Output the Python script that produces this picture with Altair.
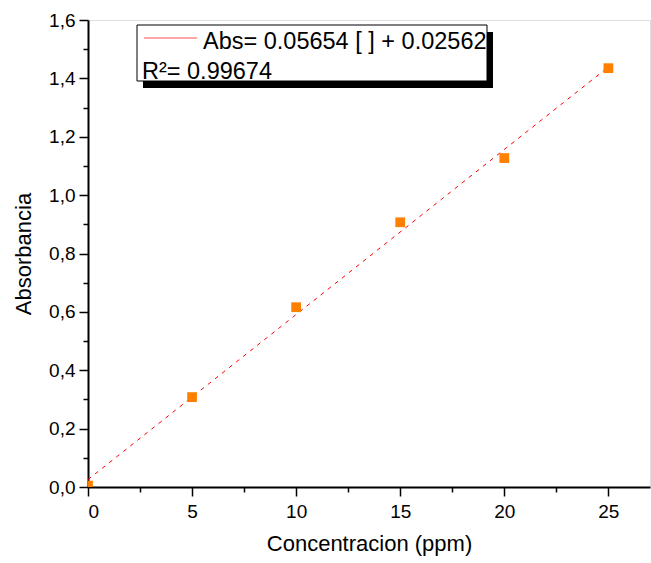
import altair as alt
import pandas as pd

conc = [0, 5, 10, 15, 20, 25]
absb = [0.005, 0.308, 0.616, 0.907, 1.127, 1.435]
fit_x = [0, 25]
fit_y = [0.02562, 1.43912]
x_major = [0, 5, 10, 15, 20, 25]
x_minor = [2.5, 7.5, 12.5, 17.5, 22.5]
y_major = [0.0, 0.2, 0.4, 0.6, 0.8, 1.0, 1.2, 1.4, 1.6]
y_minor = [0.1, 0.3, 0.5, 0.7, 0.9, 1.1, 1.3, 1.5]

pts = pd.DataFrame({"x": conc, "y": absb})
fit = pd.DataFrame({"x": fit_x, "y": fit_y})

W, H = 562, 467
FONT = "Liberation Sans"

xs = alt.Scale(domain=[0, 27], nice=False, zero=False)
ys = alt.Scale(domain=[0, 1.6], nice=False, zero=False)

x_axis = alt.Axis(values=x_major, title="Concentracion (ppm)", grid=False, orient="bottom",
                  domainColor="black", domainWidth=2, tickColor="black", tickWidth=1.5,
                  tickSize=9, labelFontSize=19, titleFontSize=22, labelFont=FONT, titleFont=FONT,
                  labelColor="black", titleColor="black", titleFontWeight="normal",
                  labelPadding=6, titlePadding=12)
y_axis = alt.Axis(values=y_major, title="Absorbancia", grid=False, orient="left",
                  domainColor="black", domainWidth=2, tickColor="black", tickWidth=1.5,
                  tickSize=9, labelFontSize=19, titleFontSize=22, labelFont=FONT, titleFont=FONT,
                  labelColor="black", titleColor="black", titleFontWeight="normal",
                  format=".1f", labelExpr="replace(datum.label, '.', ',')",
                  labelPadding=4, titlePadding=13)

x_minor_axis = alt.Axis(values=x_minor, title=None, labels=False, domain=False, grid=False,
                        orient="bottom", tickColor="black", tickWidth=1.5, tickSize=5)
y_minor_axis = alt.Axis(values=y_minor, title=None, labels=False, domain=False, grid=False,
                        orient="left", tickColor="black", tickWidth=1.5, tickSize=5)

fit_line = alt.Chart(fit).mark_line(color="#ff0000", strokeWidth=1, strokeDash=[4, 5]).encode(
    x=alt.X("x:Q", scale=xs, axis=x_axis),
    y=alt.Y("y:Q", scale=ys, axis=y_axis),
)

points = alt.Chart(pts).mark_square(color="#ff8000", size=95, opacity=1, clip=True).encode(
    x=alt.X("x:Q", scale=xs, axis=x_minor_axis),
    y=alt.Y("y:Q", scale=ys, axis=y_minor_axis),
)

# legend box
box_df = pd.DataFrame({"a": [0]})
shadow = alt.Chart(box_df).mark_rect(color="black").encode(
    x=alt.value(55), x2=alt.value(405), y=alt.value(12), y2=alt.value(68))
box = alt.Chart(box_df).mark_rect(fill="white", stroke="black", strokeWidth=1).encode(
    x=alt.value(49), x2=alt.value(399), y=alt.value(5), y2=alt.value(61))
sample = alt.Chart(box_df).mark_rule(color="#ff5050", strokeWidth=1).encode(
    x=alt.value(56), x2=alt.value(109), y=alt.value(18))
t1 = alt.Chart(box_df).mark_text(text="Abs= 0.05654 [ ] + 0.02562", align="left", baseline="alphabetic",
                                  fontSize=23.5, font=FONT, color="black").encode(
    x=alt.value(115), y=alt.value(29))
t2 = alt.Chart(box_df).mark_text(text="R²= 0.99674", align="left", baseline="alphabetic",
                                  fontSize=23.5, font=FONT, color="black").encode(
    x=alt.value(54), y=alt.value(59))

chart = alt.layer(fit_line, points, shadow, box, sample, t1, t2).resolve_axis(
    x="independent", y="independent"
).properties(
    width=W, height=H,
    autosize=alt.AutoSizeParams(type="none"),
    padding={"left": 88, "top": 20, "right": 1, "bottom": 76},
).configure_view(stroke=None).configure(background="white")

chart.save("out.html", embed_options={"renderer": "svg", "actions": False})
